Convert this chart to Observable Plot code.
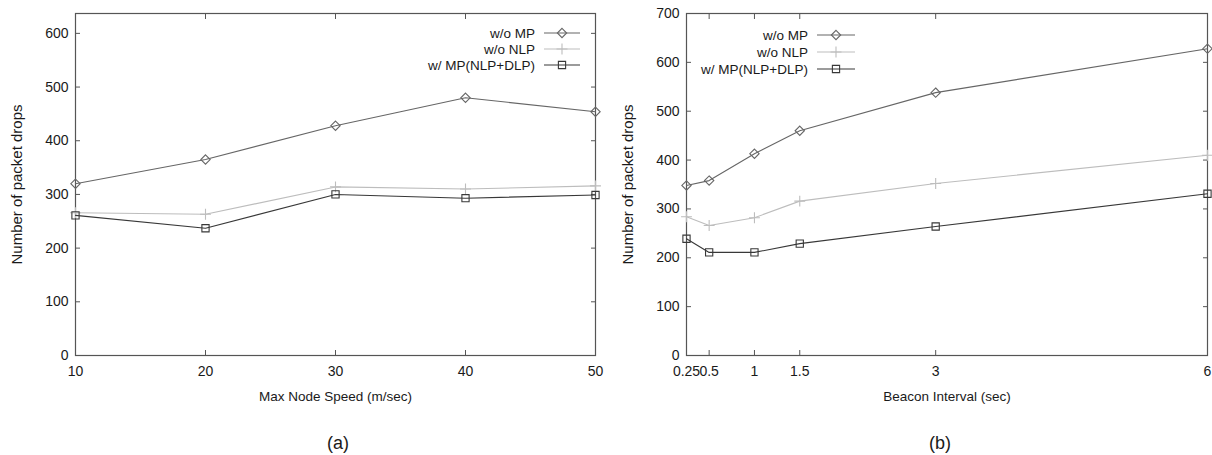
<!DOCTYPE html>
<html>
<head>
<meta charset="utf-8">
<script src="https://cdn.jsdelivr.net/npm/d3@7"></script>
<script src="https://cdn.jsdelivr.net/npm/@observablehq/plot@0.6"></script>
<style>
  body { margin: 0; background: #fff; }
  #wrap { position: relative; width: 1212px; height: 455px; font-family: "Liberation Sans", Arial, sans-serif; }
  .panel { position: absolute; top: 0; width: 606px; height: 455px; }
  .caption { position: absolute; top: 433px; font-size: 18px; color: #1a1a1a; transform: translateX(-50%); }
  .legend { position: absolute; top: 0; left: 0; pointer-events: none; }
</style>
</head>
<body>
<div id="wrap">
  <div class="panel" id="pa" style="left:0"></div>
  <div class="panel" id="pb" style="left:606px"></div>
</div>
<script>
// ---- data ----
const seriesNames = ["w/o MP", "w/o NLP", "w/ MP(NLP+DLP)"];

const speeds = [10, 20, 30, 40, 50];
const speedWoMP = [320, 365, 428, 480, 454];
const speedWoNLP = [266, 263, 314, 310, 316];
const speedWithMP = [261, 237, 300, 293, 299];

const beacons = [0.25, 0.5, 1, 1.5, 3, 6];
const beaconWoMP = [348, 358, 413, 460, 538, 628];
const beaconWoNLP = [284, 266, 282, 316, 352, 410];
const beaconWithMP = [239, 211, 211, 229, 264, 331];

const xTicksA = [10, 20, 30, 40, 50];
const yTicksA = [0, 100, 200, 300, 400, 500, 600];
const xTicksB = [0.25, 0.5, 1, 1.5, 3, 6];
const yTicksB = [0, 100, 200, 300, 400, 500, 600, 700];

// ---- styles ----
const seriesStyle = [
  {stroke: "#666666", symbol: "diamond2", r: 4.2},
  {stroke: "#bdbdbd", symbol: "plus", r: 3.6},
  {stroke: "#383838", symbol: "square2", r: 4.6}
];

function rows(xs, ...ys) {
  const out = [];
  ys.forEach((vals, s) => xs.forEach((x, i) => out.push({x, y: vals[i], s})));
  return out;
}

function panel({data, xDomain, yDomain, xTicks, yTicks, xLabel, marginLeft, marginRight}) {
  const marks = [];
  seriesNames.forEach((name, s) => {
    const d = data.filter(r => r.s === s);
    const st = seriesStyle[s];
    marks.push(Plot.line(d, {x: "x", y: "y", stroke: st.stroke, strokeWidth: 1.1}));
    marks.push(Plot.dot(d, {x: "x", y: "y", stroke: st.stroke, symbol: st.symbol, r: st.r, strokeWidth: 1.1, fill: "none"}));
  });
  const tickOnly = {tickSize: -5, fill: "none", label: null, stroke: "#555"};
  return Plot.plot({
    width: 606,
    height: 410,
    marginTop: 13,
    marginBottom: 55,
    marginLeft,
    marginRight,
    style: {fontFamily: "'Liberation Sans', Arial, sans-serif", fontSize: "14px", color: "#1a1a1a", background: "#fff"},
    x: {domain: xDomain, ticks: xTicks, tickFormat: d => String(d)},
    y: {domain: yDomain, ticks: yTicks},
    marks: [
      Plot.axisX({ticks: xTicks, tickFormat: d => String(d), tickSize: 0, tickPadding: 11, fontSize: 14, label: null}),
      Plot.axisX({ticks: xTicks, tickSize: 0, tickFormat: () => "", label: xLabel, labelAnchor: "center", labelArrow: "none", labelOffset: 45, fontSize: 13.5}),
      Plot.axisX({ticks: xTicks, anchor: "bottom", ...tickOnly}),
      Plot.axisX({ticks: xTicks, anchor: "top", ...tickOnly}),
      Plot.axisY({ticks: yTicks, tickSize: 0, tickPadding: 7, fontSize: 14, label: null}),
      Plot.axisY({ticks: yTicks, tickSize: 0, tickFormat: () => "", label: "Number of packet drops", labelAnchor: "center", labelArrow: "none", labelOffset: 64, fontSize: 15}),
      Plot.axisY({ticks: yTicks, anchor: "left", ...tickOnly}),
      Plot.axisY({ticks: yTicks, anchor: "right", ...tickOnly}),
      Plot.frame({stroke: "#555", strokeWidth: 1.2}),
      ...marks
    ]
  });
}

function legend(container, {textRight, lineX1, lineX2, rowYs}) {
  const svg = d3.select(container).append("svg")
    .attr("class", "legend").attr("width", 606).attr("height", 100)
    .style("font-family", "'Liberation Sans', Arial, sans-serif").style("font-size", "13.5px");
  const symMap = {diamond2: d3.symbolDiamond2, plus: d3.symbolPlus, square2: d3.symbolSquare2};
  seriesNames.forEach((name, s) => {
    const st = seriesStyle[s];
    const y = rowYs[s];
    svg.append("text").attr("x", textRight).attr("y", y).attr("dy", "0.35em")
      .attr("text-anchor", "end").attr("fill", "#1a1a1a").text(name);
    svg.append("line").attr("x1", lineX1).attr("x2", lineX2).attr("y1", y).attr("y2", y)
      .attr("stroke", st.stroke).attr("stroke-width", 1.1);
    svg.append("path").attr("transform", `translate(${(lineX1 + lineX2) / 2},${y})`)
      .attr("d", d3.symbol(symMap[st.symbol], Math.PI * st.r * st.r)())
      .attr("fill", "none").attr("stroke", st.stroke).attr("stroke-width", 1.1);
  });
}

const pa = document.getElementById("pa");
pa.appendChild(panel({
  data: rows(speeds, speedWoMP, speedWoNLP, speedWithMP),
  xDomain: [10, 50], yDomain: [0, 637], xTicks: xTicksA, yTicks: yTicksA,
  xLabel: "Max Node Speed (m/sec)", marginLeft: 75, marginRight: 11
}));
legend(pa, {textRight: 535, lineX1: 544, lineX2: 580, rowYs: [33, 49, 65]});
const ca = document.createElement("div"); ca.className = "caption"; ca.style.left = "338px"; ca.textContent = "(a)"; pa.appendChild(ca);

const pb = document.getElementById("pb");
pb.appendChild(panel({
  data: rows(beacons, beaconWoMP, beaconWoNLP, beaconWithMP),
  xDomain: [0.25, 6], yDomain: [0, 700], xTicks: xTicksB, yTicks: yTicksB,
  xLabel: "Beacon Interval (sec)", marginLeft: 80, marginRight: 5
}));
legend(pb, {textRight: 202, lineX1: 211, lineX2: 249, rowYs: [35, 52, 69]});
const cb = document.createElement("div"); cb.className = "caption"; cb.style.left = "334px"; cb.textContent = "(b)"; pb.appendChild(cb);
</script>
</body>
</html>
